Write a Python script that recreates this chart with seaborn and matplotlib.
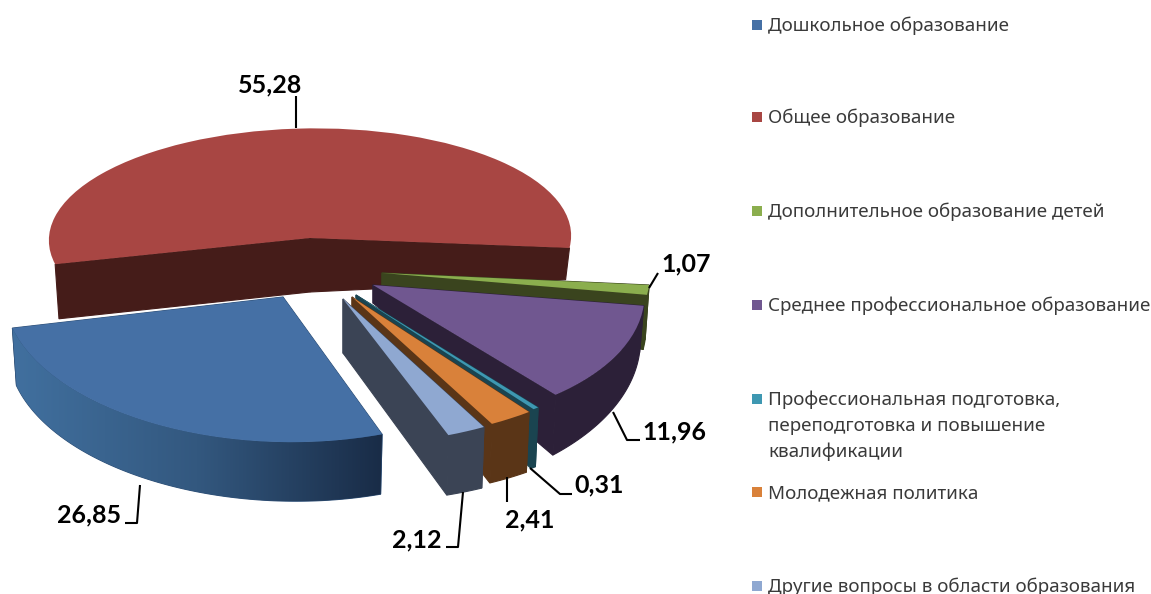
import numpy as np
import matplotlib
matplotlib.use("Agg")
import matplotlib.pyplot as plt
from matplotlib.patches import Polygon
from matplotlib.transforms import Affine2D
import seaborn as sns

categories = [
    "Дошкольное образование",
    "Общее образование",
    "Дополнительное образование детей",
    "Среднее профессиональное образование",
    "Профессиональная подготовка,\nпереподготовка и повышение\nквалификации",
    "Молодежная политика",
    "Другие вопросы в области образования",
]
values = [26.85, 55.28, 1.07, 11.96, 0.31, 2.41, 2.12]

top_colors = ["#4570A5", "#A84643", "#8BAE4E", "#705790", "#3E98B2", "#D9813A", "#8FA8D1"]
wall_colors = ["#2F5077", "#451C19", "#3A441E", "#2C2038", "#1A4450", "#5A3517", "#3B4455"]

# slice layout in picture pixels: apex x, apex y, radius, squash, x shear, y shear
slice_geom = [
    (283, 297, 279, 0.52, 1, 5),
    (310, 238, 261, 0.42, 8, 1),
    (382, 273, 268, 0.55, 0, 0),
    (373, 285, 271, 0.517, -18, 0),
    (356, 295, 293, 0.49, 0, 0),
    (352, 297, 292, 0.495, 0, 0),
    (343, 299, 294, 0.496, 0, 0),
]
# depth at apex, at clockwise edge, at counter-clockwise edge
slice_depth = [
    (55, 58, 62),
    (54, 32, 55),
    (30, 55, 55),
    (18, 62, 47),
    (3, 61, 61),
    (10, 61, 62),
    (54, 62, 63),
]
# the red slice shows only its two cut faces, not the rim
show_rim = [True, False, True, True, True, True, True]
taper = 0.985
draw_order = [1, 0, 2, 3, 4, 5, 6]

# label centre, then leader line points
label_pos = [(89, 515), (270, 85), (686, 264), (674, 432), (599, 485), (530, 520), (417, 540)]
leaders = [
    [(140, 485), (137, 523), (125, 523)],
    [(296, 96), (296, 128)],
    [(658, 273), (649, 288)],
    [(613, 412), (627, 440), (640, 440)],
    [(530, 468), (560, 494), (572, 494)],
    [(507, 477), (507, 502)],
    [(463, 492), (458, 547), (446, 547)],
]
legend_y = [25, 117, 211, 305, 399, 492, 586]

sns.set_theme(style="white")
plt.rcParams["font.family"] = ["Noto Sans", "DejaVu Sans"]

fig = plt.figure(figsize=(11.51, 5.94), dpi=100)
ax = fig.add_axes([0, 0, 1, 1])

wedges, _ = ax.pie(values, colors=sns.color_palette(top_colors), startangle=-69,
                   counterclock=False, wedgeprops={"linewidth": 0})
ax.set_aspect("auto")


def arc_points(geom, thetas, depths, scale=1.0):
    cx, cy, r, k, sx, sy = geom
    t = np.radians(thetas)
    x = cx + scale * (r * np.cos(t) + sx * np.sin(t))
    y = cy + scale * (-r * k * np.sin(t) + sy * np.cos(t)) + depths
    return np.column_stack([x, y])


blue_grad = sns.blend_palette(["#41709F", "#33587F", "#192C47"], as_cmap=True)

z = 1
for i in draw_order:
    w = wedges[i]
    geom = slice_geom[i]
    d_apex, d1, d2 = slice_depth[i]
    cx, cy, r, k, sx, sy = geom
    thetas = np.linspace(w.theta1, w.theta2, 120)
    depths = np.linspace(d1, d2, 120)
    upper = arc_points(geom, thetas, 0)
    lower = arc_points(geom, thetas, depths, taper)
    band = np.vstack([upper, lower[::-1]])
    apex_top = (cx, cy)
    apex_bot = (cx, cy + d_apex)
    faces = [[apex_top, upper[0], lower[0], apex_bot], [apex_top, upper[-1], lower[-1], apex_bot]]
    if show_rim[i]:
        faces.append(band)
    for pts in faces:
        ax.add_patch(Polygon(pts, closed=True, facecolor=wall_colors[i], edgecolor=wall_colors[i],
                             linewidth=0.8, zorder=z))
    z += 1
    if i == 0:
        # the blue slice has a shaded rim, dark to the right
        im = ax.imshow(np.linspace(0, 1, 256).reshape(1, -1), cmap=blue_grad, aspect="auto",
                       extent=(band[:, 0].min(), band[:, 0].max(), band[:, 1].max(), band[:, 1].min()),
                       zorder=z)
        im.set_clip_path(Polygon(band, closed=True, transform=ax.transData))
        z += 1
    w.set_transform(Affine2D.from_values(r, sy, sx, -r * k, cx, cy) + ax.transData)
    w.set_zorder(z)
    z += 1

for val, pos, pts in zip(values, label_pos, leaders):
    xs, ys = zip(*pts)
    ax.plot(xs, ys, color="black", linewidth=1.5, zorder=z, solid_capstyle="butt")
    ax.text(pos[0], pos[1], f"{val:.2f}".replace(".", ","), ha="center", va="center",
            family=["Lato", "DejaVu Sans"], fontsize=18, fontweight="bold", color="black", zorder=z + 1)

for name, y, color in zip(categories, legend_y, top_colors):
    ax.scatter([757.5], [y], marker="s", s=62, color=color, linewidths=0, zorder=z)
    for n, line in enumerate(name.split("\n")):
        ax.text(768, y + 1 + 26 * n, line, ha="left", va="center", fontsize=13.5, color="#3A3A3A", zorder=z)

ax.set_xlim(0, 1151)
ax.set_ylim(594, 0)
ax.axis("off")

fig.savefig("out.png", dpi=100)
